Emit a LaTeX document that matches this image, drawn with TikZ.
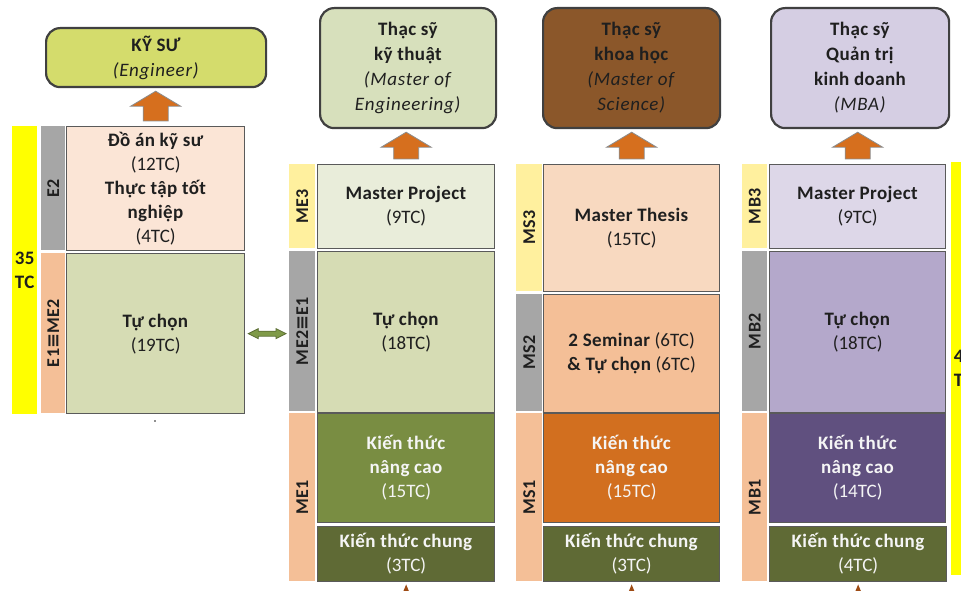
\documentclass[tikz,border=0pt]{standalone}
\usepackage{fontspec}
\setmainfont{Carlito}[ItalicFeatures={LetterSpace=4}, BoldFeatures={LetterSpace=2}]
\newfontfamily\symf{DejaVu Sans}
\usetikzlibrary{arrows.meta,calc}
\definecolor{txt}{HTML}{1F1F1F}
\definecolor{boxln}{HTML}{5A5A5A}
\definecolor{topln}{HTML}{404040}
\definecolor{yel}{HTML}{FFFF00}
\definecolor{labgray}{HTML}{A6A6A6}
\definecolor{laborg}{HTML}{F4BF97}
\definecolor{labyel}{HTML}{FFF09E}
\definecolor{cE2}{HTML}{FBE5D6}
\definecolor{cGreenL}{HTML}{D6DCB4}
\definecolor{cMEP}{HTML}{E9EDDA}
\definecolor{cMEadv}{HTML}{798D42}
\definecolor{cGen}{HTML}{5F6A35}
\definecolor{cMEtop}{HTML}{D7E0BC}
\definecolor{cEng}{HTML}{D4DC6C}
\definecolor{cMStop}{HTML}{8B572A}
\definecolor{cMS3}{HTML}{F8D9C0}
\definecolor{cMS2}{HTML}{F4BF97}
\definecolor{cMS1}{HTML}{D26F1F}
\definecolor{cMBtop}{HTML}{D5CEE3}
\definecolor{cMB3}{HTML}{DDD7E8}
\definecolor{cMB2}{HTML}{B4A8CB}
\definecolor{cMB1}{HTML}{60507F}
\definecolor{arrorg}{HTML}{D66F1E}
\definecolor{arrln}{HTML}{8C8C8C}
\definecolor{dblgreen}{HTML}{7F9A48}
\definecolor{dblln}{HTML}{5C6E33}
\definecolor{brn}{HTML}{9E4B14}
\definecolor{wtxt}{HTML}{F5F5F5}
\newcommand\blockup[2]{%
  \draw[barrow] let \p1=(#1.north), \p2=(#2.south) in
    (\x1-12.5pt,\y1+5pt) -- (\x1-12.5pt,\y2-18pt) -- (\x1-25pt,\y2-18pt) --
    (\x1,\y2-3pt) -- (\x1+25pt,\y2-18pt) -- (\x1+12.5pt,\y2-18pt) --
    (\x1+12.5pt,\y1+5pt) -- cycle;}
\begin{document}
\begin{tikzpicture}[x=1pt,y=-1pt,
  cbox/.style={draw=boxln, line width=1.3pt, anchor=north west, inner sep=0pt, align=center, text=txt, font=\fontsize{19}{24}\selectfont},
  lab/.style={anchor=north west, inner sep=0pt, text=txt, font=\bfseries\fontsize{18}{20}\selectfont},
  topbox/.style={draw=topln, line width=2.2pt, rounded corners=14pt, anchor=north west, inner sep=0pt, align=center, text=txt, font=\fontsize{19}{25}\selectfont},
  ybar/.style={fill=yel, anchor=north west, inner sep=0pt, align=center, text=txt, font=\bfseries\fontsize{19}{24}\selectfont},
  barrow/.style={fill=arrorg, draw=arrln, line width=0.8pt},
  dblarrow/.style={fill=dblgreen, draw=dblln, line width=0.8pt},
  smallarr/.style={draw=brn, line width=1.5pt, -{Triangle[width=6pt,length=8pt]}},
]
\useasboundingbox (0,0) rectangle (961,591);
\clip (0,0) rectangle (961,591);
\fill[white] (0,0) rectangle (961,591);

% ---------- Engineer column ----------
\node[ybar, minimum width=25, minimum height=288] (ybarL) at (12,126) {35\\TC};
\node[lab, fill=labgray, minimum width=24, minimum height=124] (e2l) at (41,126) {\rotatebox{90}{E2}};
\node[lab, fill=laborg, minimum width=24, minimum height=160] (e1l) at (41,253) {\rotatebox{90}{E1{\symf ≡}ME2}};
\node[cbox, fill=cE2, minimum width=178, minimum height=124] (e2) at (66,126)
  {\textbf{Đồ án kỹ sư}\\(12TC)\\\textbf{Thực tập tốt}\\\textbf{nghiệp}\\(4TC)};
\node[cbox, fill=cGreenL, minimum width=178, minimum height=160] (e1) at (66,253)
  {\textbf{Tự chọn}\\(19TC)};
\node[topbox, fill=cEng, minimum width=220, minimum height=59] (eng) at (45,27)
  {\textbf{KỸ SƯ}\\\textit{(Engineer)}};
\fill[txt] (155,421) circle (0.8pt);

% ---------- Master of Engineering ----------
\node[lab, fill=labyel, minimum width=26, minimum height=84] (me3l) at (289,164) {\rotatebox{90}{ME3}};
\node[lab, fill=labgray, minimum width=26, minimum height=160] (me2l) at (289,251) {\rotatebox{90}{ME2{\symf ≡}E1}};
\node[lab, fill=laborg, minimum width=26, minimum height=168] (me1l) at (289,413) {\rotatebox{90}{ME1}};
\node[cbox, fill=cMEP, minimum width=177, minimum height=84] (me3) at (317,164)
  {\textbf{Master Project}\\(9TC)};
\node[cbox, fill=cGreenL, minimum width=177, minimum height=161] (me2) at (317,251)
  {\textbf{Tự chọn}\\(18TC)};
\node[cbox, fill=cMEadv, text=wtxt, minimum width=177, minimum height=109] (me1) at (317,413)
  {\textbf{Kiến thức}\\\textbf{nâng cao}\\(15TC)};
\node[cbox, fill=cGen, text=wtxt, minimum width=177, minimum height=55] (kc1) at (317,526)
  {\textbf{Kiến thức chung}\\(3TC)};
\node[topbox, fill=cMEtop, minimum width=176, minimum height=120] (metop) at (319,7)
  {\textbf{Thạc sỹ}\\\textbf{kỹ thuật}\\\textit{(Master of}\\\textit{Engineering)}};

% ---------- Master of Science ----------
\node[lab, fill=labyel, minimum width=26, minimum height=127] (ms3l) at (516,164) {\rotatebox{90}{MS3}};
\node[lab, fill=labgray, minimum width=26, minimum height=117] (ms2l) at (516,294) {\rotatebox{90}{MS2}};
\node[lab, fill=laborg, minimum width=26, minimum height=168] (ms1l) at (516,413) {\rotatebox{90}{MS1}};
\node[cbox, fill=cMS3, minimum width=176, minimum height=127] (ms3) at (543,164)
  {\textbf{Master Thesis}\\(15TC)};
\node[cbox, fill=cMS2, minimum width=176, minimum height=118] (ms2) at (543,294)
  {\textbf{2 Seminar} (6TC)\\\textbf{\& Tự chọn} (6TC)};
\node[cbox, fill=cMS1, text=wtxt, minimum width=176, minimum height=109] (ms1) at (543,413)
  {\textbf{Kiến thức}\\\textbf{nâng cao}\\(15TC)};
\node[cbox, fill=cGen, text=wtxt, minimum width=176, minimum height=55] (kc2) at (543,526)
  {\textbf{Kiến thức chung}\\(3TC)};
\node[topbox, fill=cMStop, minimum width=177, minimum height=120] (mstop) at (542,7)
  {\textbf{Thạc sỹ}\\\textbf{khoa học}\\\textit{(Master of}\\\textit{Science)}};

% ---------- MBA ----------
\node[lab, fill=labyel, minimum width=25, minimum height=84] (mb3l) at (742,164) {\rotatebox{90}{MB3}};
\node[lab, fill=labgray, minimum width=25, minimum height=160] (mb2l) at (742,251) {\rotatebox{90}{MB2}};
\node[lab, fill=laborg, minimum width=25, minimum height=168] (mb1l) at (742,413) {\rotatebox{90}{MB1}};
\node[cbox, fill=cMB3, minimum width=176, minimum height=84] (mb3) at (769,164)
  {\textbf{Master Project}\\(9TC)};
\node[cbox, fill=cMB2, minimum width=176, minimum height=161] (mb2) at (769,251)
  {\textbf{Tự chọn}\\(18TC)};
\node[cbox, fill=cMB1, text=wtxt, minimum width=176, minimum height=109] (mb1) at (769,413)
  {\textbf{Kiến thức}\\\textbf{nâng cao}\\(14TC)};
\node[cbox, fill=cGen, text=wtxt, minimum width=177, minimum height=55] (kc3) at (769,526)
  {\textbf{Kiến thức chung}\\(4TC)};
\node[topbox, fill=cMBtop, minimum width=178, minimum height=120] (mbtop) at (770,7)
  {\textbf{Thạc sỹ}\\\textbf{Quản trị}\\\textbf{kinh doanh}\\\textit{(MBA)}};
\node[ybar, minimum width=25, minimum height=413] (ybarR) at (951,162) {45\\TC};

% ---------- block arrows ----------
\blockup{e2}{eng}
\blockup{me3}{metop}
\blockup{ms3}{mstop}
\blockup{mb3}{mbtop}

% ---------- double arrow ----------
\draw[dblarrow] let \p1=(e1.east), \p2=(me2l.west) in
  (\x1+3pt,\y1) -- (\x1+13pt,\y1+5pt) -- (\x1+13pt,\y1+2.5pt) -- (\x2-13pt,\y1+2.5pt) --
  (\x2-13pt,\y1+5pt) -- (\x2-3pt,\y1) -- (\x2-13pt,\y1-5pt) -- (\x2-13pt,\y1-2.5pt) --
  (\x1+13pt,\y1-2.5pt) -- (\x1+13pt,\y1-5pt) -- cycle;

% ---------- small incoming arrows ----------
\coordinate (in1) at ($(kc1.south)+(0,15)$);
\coordinate (in2) at ($(kc2.south)+(0,15)$);
\coordinate (in3) at ($(kc3.south)+(0,15)$);
\draw[smallarr] (in1) -- ($(kc1.south)+(0,2)$);
\draw[smallarr] (in2) -- ($(kc2.south)+(0,2)$);
\draw[smallarr] (in3) -- ($(kc3.south)+(0,2)$);
\end{tikzpicture}
\end{document}
